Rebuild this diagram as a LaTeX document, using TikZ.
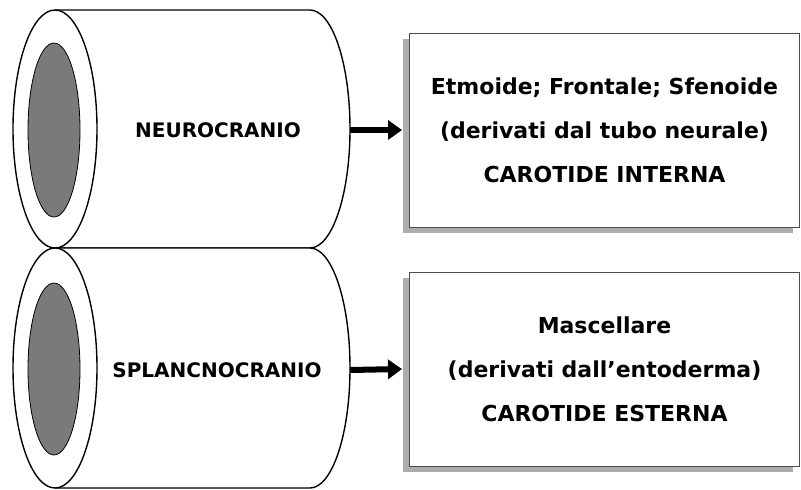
\documentclass[tikz,border=0pt]{standalone}
\usepackage{fontspec}
\setmainfont{DejaVu Sans}
\usetikzlibrary{arrows.meta,shadows}

\begin{document}
\begin{tikzpicture}[x=1pt, y=-1pt, line width=1.4pt,
    tube/.style={draw=black, fill=white},
    hole/.style={draw=black, line width=0.8pt, fill=black!52},
    tube label/.style={font=\fontsize{20}{24}\selectfont\bfseries},
    out box/.style={draw=black!70, line width=1pt, fill=white, minimum width=390pt, minimum height=194pt, align=center,
        font=\fontsize{22}{44}\selectfont\bfseries,
        drop shadow={shadow xshift=-7pt, shadow yshift=-6pt, fill=black!40, opacity=0.8}},
    big arrow/.style={-{Triangle[length=14pt,width=19pt]}, line width=6pt}]

    \useasboundingbox (0,0) rectangle (801,490);

    % Top tube
    \draw[tube] (55,10) -- (310,10) arc[start angle=-90, end angle=90, x radius=40, y radius=119] -- (55,248);
    \draw[tube] (55,129) ellipse[x radius=42, y radius=119];
    \draw[hole] (54,130) ellipse[x radius=26, y radius=87];
    \node[tube label] (neuro) at (218,130) {NEUROCRANIO};
    \coordinate (neuroEnd) at (350,130);

    % Bottom tube
    \draw[tube] (55,248) -- (310,248) arc[start angle=-90, end angle=90, x radius=40, y radius=120] -- (55,488);
    \draw[tube] (55,368) ellipse[x radius=42, y radius=120];
    \draw[hole] (54,369) ellipse[x radius=26, y radius=86];
    \node[tube label] (splanc) at (217,370) {SPLANCNOCRANIO};
    \coordinate (splancEnd) at (350,370);

    % Boxes
    \node[out box] (neuroBox) at (604.5,130) {Etmoide; Frontale; Sfenoide\\(derivati dal tubo neurale)\\CAROTIDE INTERNA};
    \node[out box] (splancBox) at (604.5,369) {Mascellare\\(derivati dall’entoderma)\\CAROTIDE ESTERNA};

    \draw[big arrow] (neuroEnd) -- ([xshift=-7pt]neuroBox.west);
    \draw[big arrow] (splancEnd) -- ([xshift=-7pt]splancBox.west);

\end{tikzpicture}
\end{document}
